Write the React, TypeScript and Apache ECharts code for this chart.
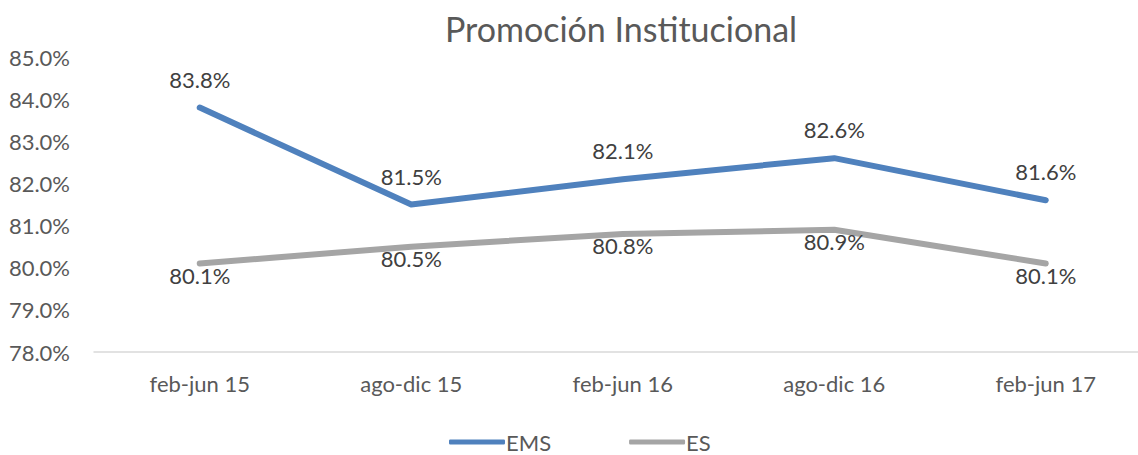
import React, { useEffect, useRef } from "react";
import * as echarts from "echarts";

const categories = ["feb-jun 15", "ago-dic 15", "feb-jun 16", "ago-dic 16", "feb-jun 17"];
const emsValues = [83.8, 81.5, 82.1, 82.6, 81.6];
const esValues = [80.1, 80.5, 80.8, 80.9, 80.1];
const yMin = 78;
const yMax = 85;

export default function App() {
  const ref = useRef<HTMLDivElement>(null);
  useEffect(() => {
    if (!ref.current) return;
    const chart = echarts.init(ref.current, null, { renderer: "svg" });
    const font = "Lato, 'Liberation Sans', sans-serif";
    chart.setOption({
      animation: false,
      textStyle: { fontFamily: font },
      title: {
        text: "Promoción Institucional",
        left: 616,
        textAlign: "center",
        top: 6,
        textStyle: { fontFamily: font, fontSize: 34, fontWeight: "normal", color: "#595959" },
      },
      legend: {
        bottom: -3,
        left: 444,
        itemWidth: 56,
        itemHeight: 5,
        itemGap: 78,
        icon: "roundRect",
        textStyle: { fontFamily: font, fontSize: 22, color: "#595959", padding: [0, 0, 0, -4] },
        data: ["EMS", "ES"],
      },
      grid: { left: 94, top: 57, width: 1057.5, bottom: 103, containLabel: false },
      xAxis: {
        type: "category",
        data: categories,
        boundaryGap: true,
        axisLine: { lineStyle: { color: "#D9D9D9", width: 1.5 } },
        axisTick: { show: false },
        axisLabel: { fontFamily: font, fontSize: 22, color: "#595959", margin: 20 },
      },
      yAxis: {
        type: "value",
        min: yMin,
        max: yMax,
        interval: 1,
        splitLine: { show: false },
        axisLine: { show: false },
        axisTick: { show: false },
        axisLabel: {
          fontFamily: font,
          fontSize: 22,
          color: "#595959",
          margin: 24,
          formatter: (v: number) => v.toFixed(1) + "%",
        },
      },
      series: [
        {
          name: "EMS",
          type: "line",
          data: emsValues,
          symbol: "circle",
          symbolSize: 1,
          showSymbol: true,
          lineStyle: { color: "#4F81BD", width: 6, cap: "round", join: "round" },
          itemStyle: { color: "#4F81BD" },
          label: {
            show: true,
            position: "top",
            distance: 17,
            fontFamily: font,
            fontSize: 22,
            color: "#404040",
            formatter: (p: any) => p.value.toFixed(1) + "%",
          },
        },
        {
          name: "ES",
          type: "line",
          data: esValues,
          symbol: "circle",
          symbolSize: 1,
          showSymbol: true,
          lineStyle: { color: "#A5A5A5", width: 6, cap: "round", join: "round" },
          itemStyle: { color: "#A5A5A5" },
          label: {
            show: true,
            position: "bottom",
            distance: 0,
            fontFamily: font,
            fontSize: 22,
            color: "#404040",
            formatter: (p: any) => p.value.toFixed(1) + "%",
          },
        },
      ],
    });
    return () => chart.dispose();
  }, []);
  return (
    <div style={{ position: "fixed", left: 0, top: 0, width: 1138, height: 455, overflow: "hidden", background: "#fff" }}>
      <div ref={ref} style={{ width: 1170, height: 455 }} />
    </div>
  );
}
